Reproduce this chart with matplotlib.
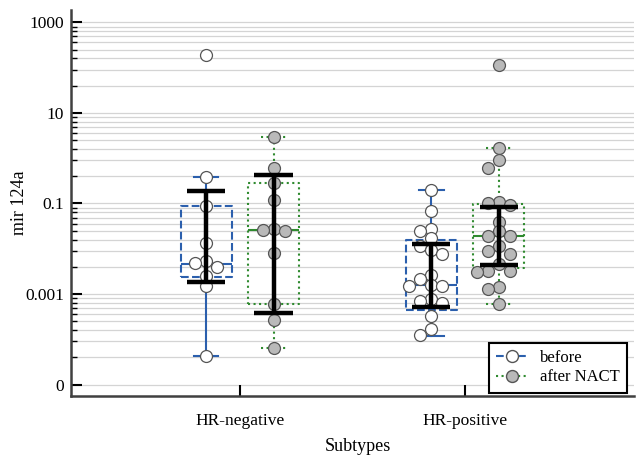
import numpy as np
import matplotlib.pyplot as plt
from matplotlib.lines import Line2D

plt.rcParams['font.family'] = ['Liberation Serif', 'DejaVu Serif']

subtypes = ['HR-negative', 'HR-positive']

# individual samples
before_neg = [190, 0.376, 0.087, 0.0134, 0.0053, 0.0049, 0.0039, 0.0025, 0.00147, 4.2e-5]
after_neg = [3.0, 0.6, 0.285, 0.122, 0.027, 0.026, 0.025, 0.0079, 0.0006, 0.00027, 6.5e-5]
before_pos = [0.197, 0.069, 0.028, 0.0245, 0.0169, 0.0114, 0.0093, 0.0076, 0.0027, 0.0022,
              0.00157, 0.00147, 0.00147, 0.00076, 0.00069, 0.00063, 0.00032, 0.000166, 0.000123]
after_pos = [114, 1.69, 0.9, 0.62, 0.108, 0.103, 0.092, 0.039, 0.025, 0.019, 0.019, 0.0114,
             0.0089, 0.0078, 0.0047, 0.0033, 0.0032, 0.0031, 0.0014, 0.0013, 0.0006]

# box statistics per subtype
before_q1 = [0.0024, 0.00044]
before_med = [0.0047, 0.00157]
before_q3 = [0.087, 0.016]
before_lo = [4.2e-5, 0.00012]
before_hi = [0.376, 0.197]
after_q1 = [0.0006, 0.0037]
after_med = [0.026, 0.019]
after_q3 = [0.285, 0.097]
after_lo = [6.5e-5, 0.0006]
after_hi = [3.0, 1.69]

# black bars
before_bar_lo = [0.0018, 0.00052]
before_bar_hi = [0.187, 0.013]
after_bar_lo = [0.00039, 0.0044]
after_bar_hi = [0.416, 0.084]

ytick_vals = [1e-5, 1e-3, 1e-1, 1e1, 1e3]
ytick_labels = ['0', '0.001', '0.1', '10', '1000']

blue = '#2b5fad'
green = '#2f8a2f'
grey_pt = '#b9b9b9'

fig = plt.figure(figsize=(6.37, 4.59), dpi=100)
ax = fig.add_axes([0.1115, 0.1373, 0.8835, 0.8407])
ax.set_yscale('log')
ax.set_ylim(5.6e-6, 1870)
ax.set_xlim(-0.75, 1.75)

minor = [m * n * n for m in ytick_vals[:-1] for n in range(2, 10)]
ax.set_yticks(ytick_vals, ytick_labels)
ax.set_yticks(minor, minor=True)
ax.yaxis.set_minor_formatter(plt.NullFormatter())
ax.set_xticks([0, 1], subtypes)
for v in ytick_vals + minor:
    ax.axhline(v, color='#d4d4d4', lw=0.9, zorder=0)

ax.tick_params(axis='y', which='major', direction='in', length=8, width=1.5, labelsize=12.5, pad=5)
ax.tick_params(axis='y', which='minor', direction='in', length=4, width=1)
ax.tick_params(axis='x', direction='in', length=8, width=1.5, labelsize=12.5, pad=12)
for s in ['top', 'right']:
    ax.spines[s].set_visible(False)
for s in ['left', 'bottom']:
    ax.spines[s].set_linewidth(1.8)
    ax.spines[s].set_color('#404040')

off = 0.15
bw = 0.227


def stats(q1, med, q3, lo, hi):
    return [dict(q1=q1[i], med=med[i], q3=q3[i], whislo=lo[i], whishi=hi[i], fliers=[])
            for i in range(len(q1))]


pos_b = [i - off for i in range(2)]
pos_a = [i + off for i in range(2)]
ax.bxp(stats(before_q1, before_med, before_q3, before_lo, before_hi), positions=pos_b,
       widths=bw, capwidths=0.11, showfliers=False, manage_ticks=False,
       boxprops=dict(color=blue, ls='--', lw=1.5), whiskerprops=dict(color=blue, lw=1.5),
       capprops=dict(color=blue, lw=1.5), medianprops=dict(color=blue, lw=1.5))
ax.bxp(stats(after_q1, after_med, after_q3, after_lo, after_hi), positions=pos_a,
       widths=bw, capwidths=0.11, showfliers=False, manage_ticks=False,
       boxprops=dict(color=green, ls=':', lw=1.5), whiskerprops=dict(color=green, ls=':', lw=1.5),
       capprops=dict(color=green, ls=':', lw=1.5), medianprops=dict(color=green, lw=1.5))

fig.canvas.draw()
d = 11.0  # marker spacing in pixels


def swarm(x0, vals):
    pts = []
    xs, ys = [], []
    for v in sorted(vals, reverse=True):
        px, py = ax.transData.transform((x0, v))
        for k in [0, -1, 1, -2, 2]:
            cx = px + k * d
            if all((cx - qx) ** 2 + (py - qy) ** 2 >= (d * 0.75) ** 2 for qx, qy in pts):
                break
        pts.append((cx, py))
        dx, dy = ax.transData.inverted().transform((cx, py))
        xs.append(dx)
        ys.append(v)
    return xs, ys


for i, (b, a) in enumerate([(before_neg, after_neg), (before_pos, after_pos)]):
    xs, ys = swarm(pos_b[i], b)
    ax.plot(xs, ys, 'o', ms=8.6, mfc='white', mec='#555555', mew=0.9, zorder=3)
    xs, ys = swarm(pos_a[i], a)
    ax.plot(xs, ys, 'o', ms=8.6, mfc=grey_pt, mec='#555555', mew=0.9, zorder=3)

ax.vlines(pos_b, before_bar_lo, before_bar_hi, color='black', lw=3.2, zorder=4)
ax.vlines(pos_a, after_bar_lo, after_bar_hi, color='black', lw=3.2, zorder=4)
for p, lo, hi in zip(pos_b + pos_a, before_bar_lo + after_bar_lo, before_bar_hi + after_bar_hi):
    ax.hlines([lo, hi], p - 0.085, p + 0.085, color='black', lw=3.2, zorder=4)

ax.set_ylabel('mir 124a', fontsize=13)
ax.yaxis.set_label_coords(-0.076, 0.5)
ax.set_xlabel('Subtypes', fontsize=13)
ax.xaxis.set_label_coords(0.51, -0.11)

handles = [Line2D([], [], color=blue, ls='--', marker='o', ms=8.6, mfc='white', mec='#555555'),
           Line2D([], [], color=green, ls=':', marker='o', ms=8.6, mfc=grey_pt, mec='#555555')]
leg = ax.legend(handles, ['before', 'after NACT'], loc='lower right', bbox_to_anchor=(0.988, 0.008),
                borderaxespad=0, fontsize=12, fancybox=False, edgecolor='black',
                handlelength=1.9, handletextpad=0.7, labelspacing=0.2, borderpad=0.45,
                framealpha=1)
leg.get_frame().set_linewidth(1.5)

fig.savefig('out.png', dpi=100)
